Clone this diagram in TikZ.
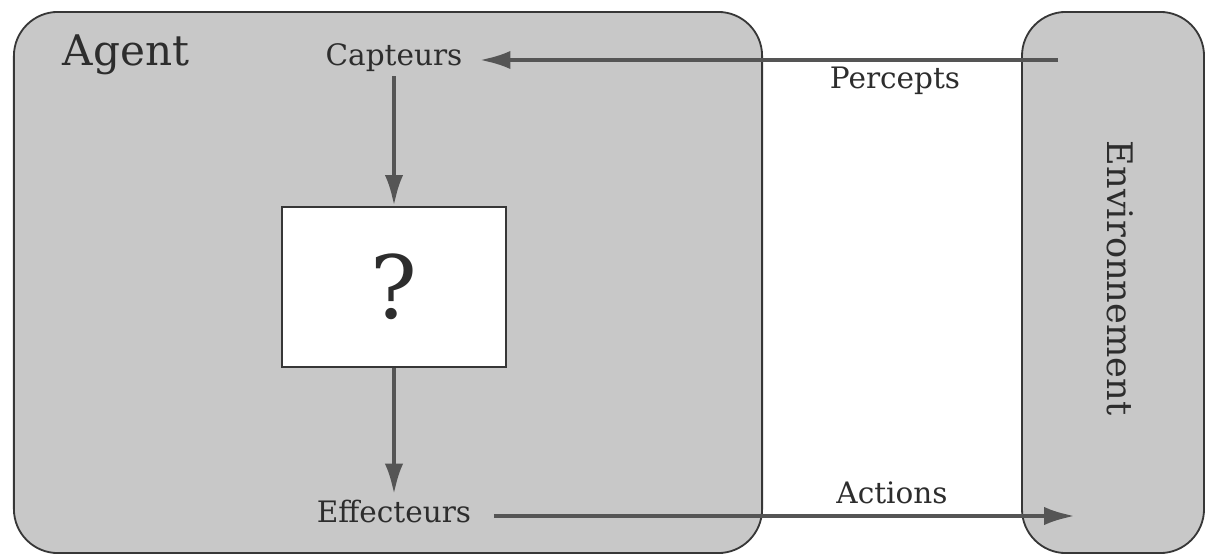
\documentclass[tikz,border=0pt]{standalone}
\usepackage{fontspec}
\setmainfont{DejaVu Serif}
\usepackage{tikz}
\usetikzlibrary{
  arrows.meta,
  positioning
}

\definecolor{fondgris}{RGB}{200,200,200}
\definecolor{bordgris}{RGB}{55,55,55}
\definecolor{traitgris}{RGB}{85,85,85}
\definecolor{textegris}{RGB}{45,45,45}

\begin{document}
\begin{tikzpicture}[%詳細設定
          x=0.025cm,y=-0.025cm,
          zone/.style={
              draw=bordgris,
              line width=1.3pt,
              fill=fondgris,
              rounded corners=1.1cm,
              inner sep=0pt
            },boite/.style={
              draw=bordgris,
              line width=1.4pt,
              fill=white,
              text=textegris,
              minimum width=5.6cm,
              minimum height=4cm
            },etiquette/.style={
              text=textegris,
              inner xsep=12pt,
              font=\fontsize{21}{25}\selectfont
            },titre/.style={
              text=textegris,
              font=\fontsize{#1}{#1}\selectfont
            },titre/.default=30
          ,fleche/.style={
              draw=traitgris,
              line width=3pt,
              -{Latex[length=22pt,width=13pt]}
            }
        ]
        \useasboundingbox (0,0) rectangle (1208,558);

        % 枠の描画
        \node[zone, minimum width=18.7cm, minimum height=13.525cm] (agent) at (388,282.5) {};
        \node[zone, minimum width=4.55cm, minimum height=13.525cm] (env) at (1113,282.5) {};

        % 文字
        \node[titre, anchor=base west] (agenttitre) at (58,65) {Agent};
        \node[titre=25, rotate=-90] (envtitre) at (1120,278) {Environnement};
        \node[etiquette, anchor=base] (capteurs) at (394,65) {Capteurs};
        \node[etiquette, anchor=base] (effecteurs) at (394,522) {Effecteurs};
        \node[boite] (inconnu) at (394,287) {\fontsize{62}{64}\selectfont ?};
        \node[etiquette, anchor=base] (percepts) at (895,88) {Percepts};
        \node[etiquette, anchor=base] (actions) at (892,503) {Actions};

        % 座標の定義
        \coordinate (perceptsdebut) at (1058,60);
        \coordinate (actionsfin) at (1075,516);

        % 矢印
        \draw[fleche] (perceptsdebut) -- (perceptsdebut -| capteurs.east);
        \draw[fleche] (capteurs.south) -- (inconnu.north);
        \draw[fleche] (inconnu.south) -- (effecteurs.north);
        \draw[fleche, shorten <=4pt] (effecteurs.east |- actionsfin) -- (actionsfin);

      \end{tikzpicture}
\end{document}
